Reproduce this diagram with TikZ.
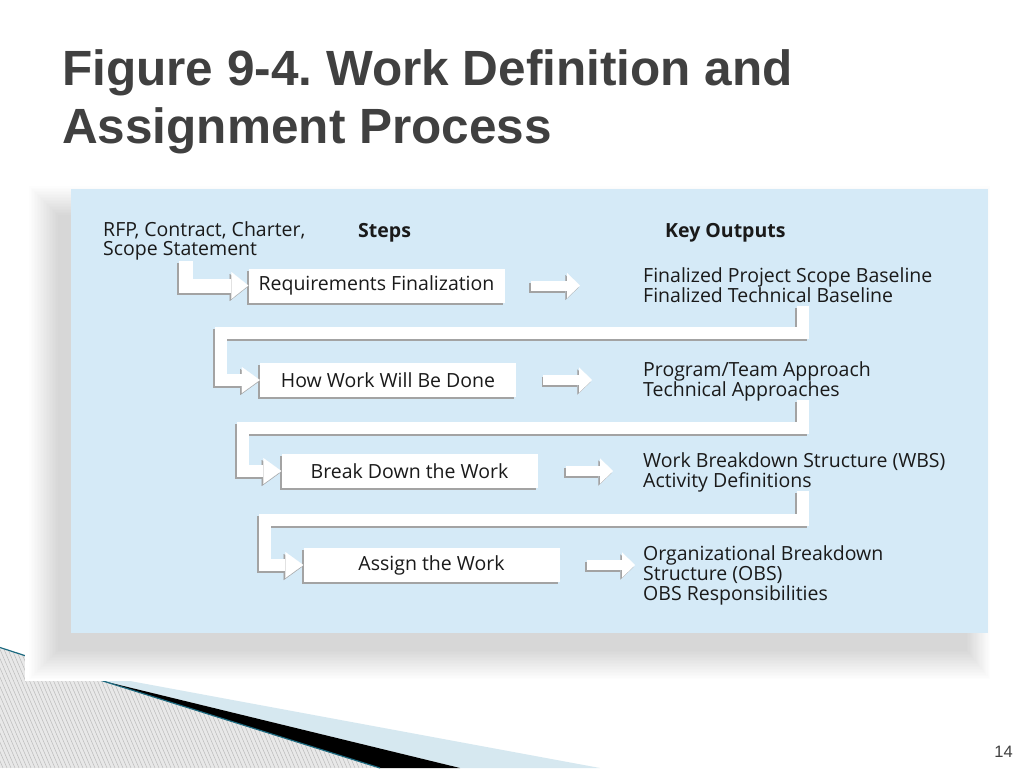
\documentclass[tikz,border=0pt]{standalone}
\usepackage{fontspec}
\setmainfont{Open Sans}
\newfontfamily\titlefont{Liberation Sans}
\usetikzlibrary{arrows.meta,calc,shadows}
\frenchspacing

\definecolor{panelblue}{HTML}{D5EAF7}
\definecolor{titlegray}{HTML}{404040}
\definecolor{inkcol}{HTML}{1A1A1A}
\definecolor{edgegray}{HTML}{A3A3A3}
\definecolor{wedgeblue}{HTML}{D6E8F0}
\definecolor{tealline}{HTML}{1D6A80}
\definecolor{hatchbg}{HTML}{E8E8E8}
\definecolor{hatchline}{HTML}{BBBBBB}

\newcommand\blockarrow[2]{%
  \draw[#1,draw=edgegray,transform canvas={xshift=-1.6pt,yshift=-2pt}] #2;
  \draw[#1,draw=white] #2;}

\tikzset{
  txt/.style={font=\fontsize{19.5}{19.7}\selectfont, text=inkcol, inner sep=0pt, align=left},
  intxt/.style={font=\fontsize{19.5}{18.4}\selectfont, text=inkcol, inner sep=0pt, align=left},
  headtxt/.style={font=\fontsize{19.5}{20}\selectfont\bfseries, text=inkcol, inner sep=0pt},
  stepbox/.style={fill=white, minimum width=256pt, minimum height=34pt, inner sep=0pt,
    font=\fontsize{19.5}{20}\selectfont, text=inkcol,
    drop shadow={shadow xshift=-1.6pt, shadow yshift=-2pt, fill=edgegray, opacity=1}},
  looparrow/.style={line width=12pt, line join=miter,
    -{Triangle[length=18pt,width=26pt,line width=0.01pt]}},
  inarrow/.style={line width=14pt, line join=miter,
    -{Triangle[length=17pt,width=27pt,line width=0.01pt]}},
  outarrow/.style={line width=10pt,
    -{Triangle[length=13pt,width=25pt,line width=0.01pt]}},
}

\begin{document}
\begin{tikzpicture}[x=1pt,y=-1pt]
\useasboundingbox (0,0) rectangle (1024,768);
\fill[white] (0,0) rectangle (1024,768);

% bottom-left decoration
\begin{scope}
  \clip (0,648) -- (103,681) -- (380,768) -- (0,768) -- cycle;
  \fill[hatchbg] (0,640) rectangle (400,768);
  \foreach \k in {-40,...,110}
    \draw[hatchline, line width=0.5pt] (\k*4,640) -- ++(55,128);
\end{scope}
\fill[wedgeblue] (103,681) -- (130,681) -- (600,768) -- (460,768) -- cycle;
\fill[black] (103,681) -- (460,768) -- (380,768) -- cycle;
\draw[tealline, line width=1.2pt] (0,647.5) -- (103,681) -- (380,768);

% white panel
\fill[white] (25,160) rectangle (1024,681);

% shadow of the figure
\foreach \i in {1,...,20}
  \fill[black, opacity=0.007] (59-1.5*\i, 216-1.5*\i) rectangle (966+1.2*\i, 649+1.5*\i);

% figure panel
\fill[panelblue] (71,189) rectangle (988,633);

% title (base anchor = last line)
\node[anchor=base west, inner sep=0pt, align=left, text=titlegray,
      font=\titlefont\bfseries\fontsize{49.5}{58}\selectfont] (title) at (62,143)
  {Figure 9-4. Work Definition and\\Assignment Process};

% headings
\node[intxt, anchor=base west] (in) at (103,255) {RFP, Contract, Charter,\\Scope Statement};
\node[headtxt, anchor=base west] (steps) at (358,237) {Steps};
\node[headtxt, anchor=base west] (keyout) at (665,237) {Key Outputs};

% step boxes
\node[stepbox] (b1) at (376.5,285.5) {Requirements Finalization};
\node[stepbox] (b2) at (388,380) {How Work Will Be Done};
\node[stepbox] (b3) at (409.5,471) {Break Down the Work};
\node[stepbox] (b4) at (431.5,565) {Assign the Work};

% outputs
\node[txt, anchor=base west] (o1) at (643,302) {Finalized Project Scope Baseline\\Finalized Technical Baseline};
\node[txt, anchor=base west] (o2) at (643,396) {Program/Team Approach\\Technical Approaches};
\node[txt, anchor=base west] (o3) at (643,487) {Work Breakdown Structure (WBS)\\Activity Definitions};
\node[txt, anchor=base west] (o4) at (643,600) {Organizational Breakdown\\Structure (OBS)\\OBS Responsibilities};

% connector start and bend points
\coordinate (s0) at (185.5,261);
\coordinate (s1) at (803,306);
\coordinate (c1) at (221,333);
\coordinate (s2) at (803,400);
\coordinate (c2) at (243,428);
\coordinate (s3) at (803,491);
\coordinate (c3) at (265,520);

% input arrow
\blockarrow{inarrow}{(s0) |- (b1.west)}
% loop-back arrows
\blockarrow{looparrow}{(s1) |- (c1) |- (b2.west)}
\blockarrow{looparrow}{(s2) |- (c2) |- (b3.west)}
\blockarrow{looparrow}{(s3) |- (c3) |- (b4.west)}
% step -> output arrows
\blockarrow{outarrow}{([xshift=26pt]b1.east) -- ($(o1.west |- b1.east)+(-63,0)$)}
\blockarrow{outarrow}{([xshift=27pt]b2.east) -- ($(o2.west |- b2.east)+(-51,0)$)}
\blockarrow{outarrow}{([xshift=28pt]b3.east) -- ($(o3.west |- b3.east)+(-30,0)$)}
\blockarrow{outarrow}{([xshift=27pt]b4.east) -- ($(o4.west |- b4.east)+(-8,0)$)}

% page number
\node[anchor=base east, inner sep=0pt, text=titlegray,
      font=\titlefont\fontsize{16.5}{18}\selectfont] (pg) at (1013,757) {14};
\end{tikzpicture}
\end{document}
